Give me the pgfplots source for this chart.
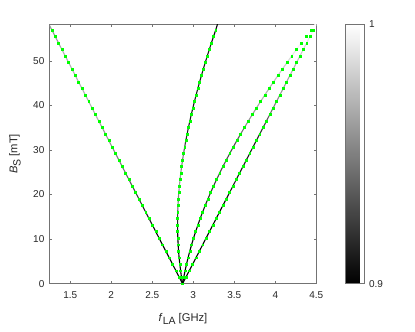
\documentclass[border=0pt]{standalone}
\usepackage{fontspec}
\setmainfont{Liberation Sans}
\usepackage{pgfplots}
\usepackage{pgfplotstable}
\pgfplotsset{compat=1.18}
\definecolor{txt}{RGB}{38,38,38}
\definecolor{axc}{RGB}{115,115,115}
\definecolor{fitgreen}{RGB}{0,255,0}

% B [mT], line frequencies [GHz], measured contrast along each line
\pgfplotstableread{
B     f1     f2     f3     f4     c1    c2    c3    c4
0.00  2.8700 2.8700 2.8700 2.8700 0.90  0.90  0.90  0.90
1.46  2.8291 2.8564 2.8842 2.9109 0.90  0.90  0.90  0.90
2.92  2.7882 2.8458 2.9004 2.9518 0.90  0.90  0.90  0.90
4.38  2.7474 2.8361 2.9179 2.9926 0.90  0.90  0.90  0.90
5.84  2.7065 2.8278 2.9370 3.0335 0.90  0.90  0.90  0.90
7.30  2.6656 2.8210 2.9576 3.0744 0.90  0.90  0.90  0.90
8.76  2.6247 2.8158 2.9798 3.1153 0.90  0.90  0.90  0.90
10.22 2.5838 2.8120 3.0036 3.1562 0.90  0.90  0.90  0.90
11.68 2.5430 2.8096 3.0288 3.1970 0.90  0.91  0.90  0.90
13.14 2.5021 2.8086 3.0556 3.2379 0.91  0.91  0.90  0.90
14.60 2.4612 2.8090 3.0839 3.2788 0.91  0.92  0.91  0.90
16.06 2.4203 2.8108 3.1137 3.3197 0.91  0.93  0.91  0.90
17.52 2.3794 2.8138 3.1449 3.3606 0.92  0.94  0.91  0.90
18.98 2.3386 2.8182 3.1776 3.4014 0.92  0.95  0.92  0.90
20.44 2.2977 2.8238 3.2117 3.4423 0.93  0.95  0.92  0.91
21.90 2.2568 2.8306 3.2471 3.4832 0.93  0.96  0.92  0.91
23.36 2.2159 2.8387 3.2840 3.5241 0.94  0.96  0.93  0.91
24.82 2.1750 2.8478 3.3221 3.5650 0.94  0.96  0.93  0.91
26.28 2.1342 2.8581 3.3616 3.6058 0.95  0.95  0.93  0.91
27.74 2.0933 2.8694 3.4023 3.6467 0.95  0.95  0.93  0.91
29.20 2.0524 2.8819 3.4443 3.6876 0.95  0.94  0.93  0.91
30.66 2.0115 2.8952 3.4875 3.7285 0.96  0.93  0.93  0.91
32.12 1.9706 2.9097 3.5318 3.7694 0.96  0.92  0.93  0.91
33.58 1.9298 2.9250 3.5773 3.8102 0.96  0.91  0.94  0.92
35.04 1.8889 2.9413 3.6239 3.8511 0.96  0.91  0.95  0.92
36.50 1.8480 2.9583 3.6716 3.8920 0.97  0.91  0.96  0.93
37.96 1.8071 2.9762 3.7203 3.9329 0.97  0.91  0.96  0.94
39.42 1.7662 2.9950 3.7700 3.9738 0.97  0.91  0.96  0.95
40.88 1.7254 3.0146 3.8207 4.0146 0.97  0.91  0.97  0.95
42.34 1.6845 3.0348 3.8724 4.0555 0.97  0.91  0.97  0.96
43.80 1.6436 3.0559 3.9249 4.0964 0.97  0.91  0.97  0.96
45.26 1.6027 3.0776 3.9783 4.1373 0.97  0.91  0.97  0.96
46.72 1.5618 3.1000 4.0326 4.1782 0.97  0.91  0.98  0.97
48.18 1.5210 3.1229 4.0878 4.2190 0.97  0.91  0.98  0.97
49.64 1.4801 3.1466 4.1437 4.2599 0.97  0.91  0.98  0.97
51.10 1.4392 3.1711 4.2003 4.3008 0.97  0.91  0.99  0.98
52.56 1.3983 3.1958 4.2577 4.3417 0.97  0.91  0.99  0.98
54.02 1.3574 3.2210 4.3159 4.3826 0.96  0.91  1.00  0.99
55.48 1.3166 3.2475 4.3745 4.4234 0.96  0.90  1.00  0.99
56.94 1.2757 3.2741 4.4340 4.4643 0.96  0.90  1.00  1.00
58.40 1.2348 3.2984 4.4956 4.5052 0.96  0.90  1.00  1.00
}\lines

\begin{document}
\begin{tikzpicture}
\path[use as bounding box] (0pt,0pt) rectangle (415pt,332pt);
\begin{axis}[
  at={(49.7pt,48.3pt)}, anchor=south west,
  scale only axis, width=266.6pt, height=259.4pt,
  xmin=1.25, xmax=4.5, ymin=0, ymax=58.2,
  xtick={1.5,2,...,4.5}, ytick={0,10,...,50},
  tick align=inside, major tick length=2.7pt,
  axis line style={axc, line width=0.5pt},
  every tick/.style={axc, line width=0.5pt},
  tick label style={txt, font=\fontsize{10}{12}\selectfont},
  /pgf/number format/assume math mode=true,
  xticklabel style={yshift=-4.2pt},
  yticklabel style={xshift=-1.8pt},
  xlabel={\textit{f}\raisebox{-0.55ex}{\fontsize{10.5}{11}\selectfont LA} [GHz]},
  ylabel={\textit{B}\raisebox{-0.55ex}{\fontsize{10.5}{11}\selectfont S} [mT]},
  label style={txt, font=\fontsize{11.2}{13}\selectfont},
  xlabel style={at={(axis description cs:0.5,-0.1465)}, anchor=base},
  ylabel style={at={(axis description cs:-0.1215,0.5)}, anchor=base},
  colormap/blackwhite,
  point meta min=0.9, point meta max=1,
  colorbar,
  colorbar style={
    at={(parent axis.north east)}, anchor=north west, xshift=20.4pt,
    scale only axis, width=19.3pt, height=259.4pt,
    ytick={0.9,1}, yticklabels={0.9,1},
    major tick length=0pt,
    axis line style={axc, line width=0.8pt},
    yticklabel style={txt, font=\fontsize{10}{12}\selectfont, xshift=1pt},
  },
]
% measured resonance lines
\addplot[mesh, line width=1.1pt, point meta=\thisrow{c1}] table[x=f1, y=B] {\lines};
\addplot[mesh, line width=1.1pt, point meta=\thisrow{c2}] table[x=f2, y=B] {\lines};
\addplot[mesh, line width=1.1pt, point meta=\thisrow{c3}] table[x=f3, y=B] {\lines};
\addplot[mesh, line width=1.1pt, point meta=\thisrow{c4}] table[x=f4, y=B] {\lines};
% model
\addplot[only marks, mark=square*, mark size=0.95pt, fitgreen, restrict y to domain=-1:57.5] table[x=f1, y=B] {\lines};
\addplot[only marks, mark=square*, mark size=0.95pt, fitgreen, restrict y to domain=-1:57.5] table[x=f2, y=B] {\lines};
\addplot[only marks, mark=square*, mark size=0.95pt, fitgreen, restrict y to domain=-1:57.5] table[x=f3, y=B] {\lines};
\addplot[only marks, mark=square*, mark size=0.95pt, fitgreen, restrict y to domain=-1:57.5] table[x=f4, y=B] {\lines};
\end{axis}
\end{tikzpicture}
\end{document}
